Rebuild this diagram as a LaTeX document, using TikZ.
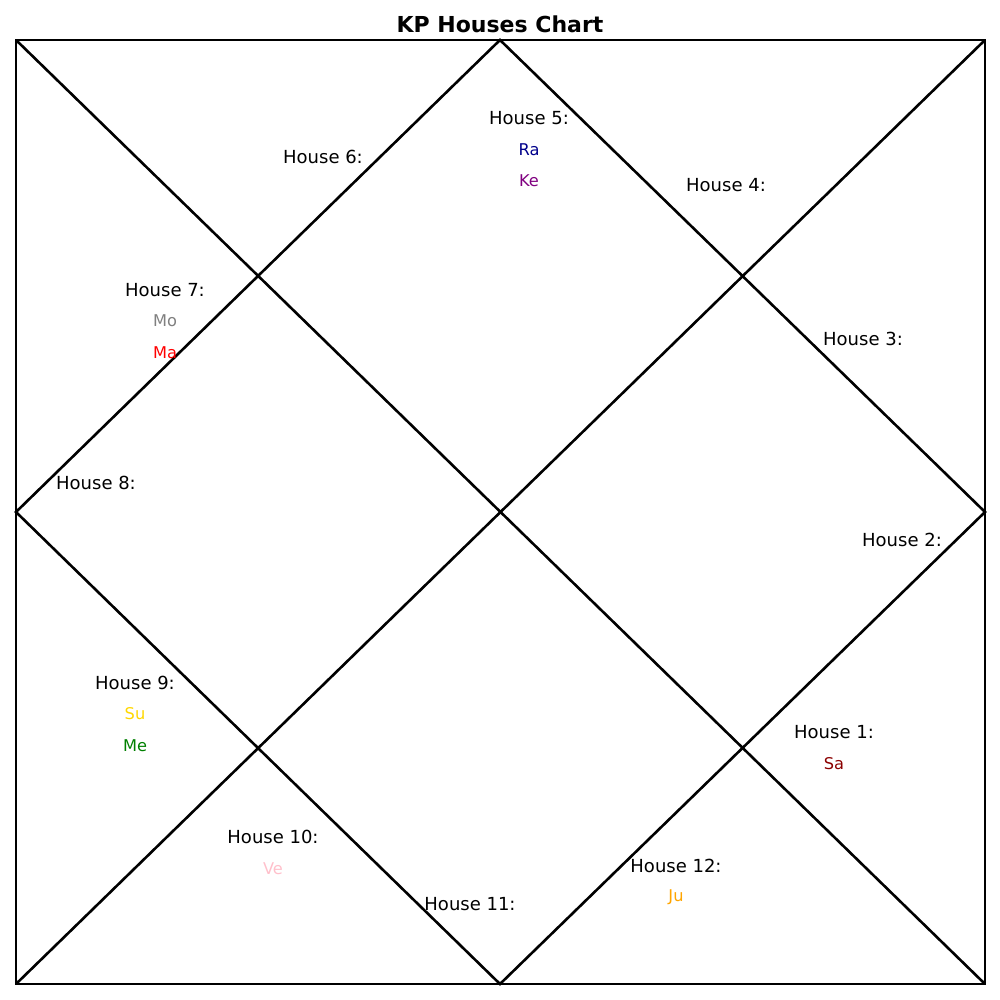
\documentclass[tikz,border=0pt]{standalone}
\usepackage{fontspec}
\setmainfont{DejaVu Sans}
\usepackage{tikz}
\usetikzlibrary{positioning}
\definecolor{cRa}{HTML}{00008B}
\definecolor{cKe}{HTML}{800080}
\definecolor{cMo}{HTML}{808080}
\definecolor{cMa}{HTML}{FF0000}
\definecolor{cSu}{HTML}{FFD700}
\definecolor{cMe}{HTML}{008000}
\definecolor{cSa}{HTML}{8B0000}
\definecolor{cVe}{HTML}{FFC0CB}
\definecolor{cJu}{HTML}{FFA500}

\begin{document}
\begin{tikzpicture}[
    x=1pt, y=-1pt,
    frame/.style={draw, line width=1.8pt},
    cut/.style={draw, line width=2.6pt},
    house/.style={inner sep=0pt, font=\fontsize{18}{21}\selectfont},
    planet/.style={inner sep=0pt, font=\fontsize{16.2}{19}\selectfont},
    title/.style={inner sep=0pt, font=\fontsize{22}{26}\selectfont\bfseries},
]
\useasboundingbox (0,0) rectangle (1000,1000);

% ===== CHART FRAME =====
\coordinate (tl) at (16,40);
\coordinate (tr) at (985,40);
\coordinate (br) at (985,984);
\coordinate (bl) at (16,984);
\coordinate (tm) at (500,40);
\coordinate (rm) at (985,512);
\coordinate (bm) at (500,984);
\coordinate (lm) at (16,512);

\node[title] (head) at (500,24) {KP Houses Chart};

\draw[frame] (tl) rectangle (br);
\draw[cut] (tl) -- (br);
\draw[cut] (tr) -- (bl);
\draw[cut] (tm) -- (rm) -- (bm) -- (lm) -- cycle;

% ===== HOUSES =====
\node[house] (h1)  at (834,732) {House 1:};
\node[house] (h2)  at (902,540) {House 2:};
\node[house] (h3)  at (863,339) {House 3:};
\node[house] (h4)  at (726,185) {House 4:};
\node[house] (h5)  at (529,118) {House 5:};
\node[house] (h6)  at (323,157) {House 6:};
\node[house] (h7)  at (165,290) {House 7:};
\node[house] (h8)  at (96,483)  {House 8:};
\node[house] (h9)  at (135,683) {House 9:};
\node[house] (h10) at (273,837) {House 10:};
\node[house] (h11) at (470,904) {House 11:};
\node[house] (h12) at (676,866) {House 12:};

% ===== PLANETS =====
\node[planet, text=cSa] (sa) at (834,764) {Sa};
\node[planet, text=cRa] (ra) at (529,150) {Ra};
\node[planet, text=cKe] (ke) at (529,181) {Ke};
\node[planet, text=cMo] (mo) at (165,321) {Mo};
\node[planet, text=cMa] (ma) at (165,353) {Ma};
\node[planet, text=cSu] (su) at (135,714) {Su};
\node[planet, text=cMe] (me) at (135,746) {Me};
\node[planet, text=cVe] (ve) at (273,869) {Ve};
\node[planet, text=cJu] (ju) at (676,897) {Ju};

\end{tikzpicture}
\end{document}
